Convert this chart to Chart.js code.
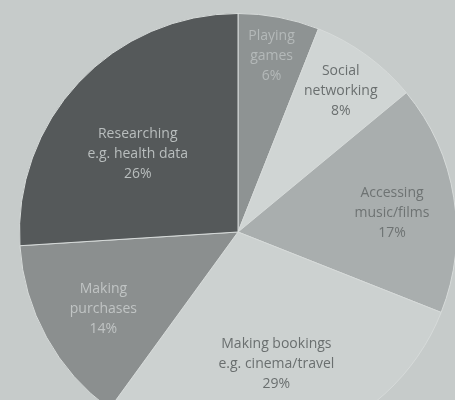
<!DOCTYPE html>
<html>
<head>
<meta charset="utf-8">
<script src="https://cdn.jsdelivr.net/npm/chart.js@4.4.0/dist/chart.umd.min.js"></script>
<style>
  html, body { margin: 0; padding: 0; background: #c6cbca; overflow: hidden; }
  #wrap { position: absolute; left: 0; top: 0; width: 470px; height: 470px; }
</style>
</head>
<body>
<div id="wrap"><canvas id="pieChart"></canvas></div>
<script>
// data, clockwise from 12 o'clock
const categories = [
    ['Playing', 'games'],
    ['Social', 'networking'],
    ['Accessing', 'music/films'],
    ['Making bookings', 'e.g. cinema/travel'],
    ['Making', 'purchases'],
    ['Researching', 'e.g. health data']
];
const shares = [6, 8, 17, 29, 14, 26];

const sliceColors = ['#8e9393', '#d0d5d4', '#a9aeae', '#ccd1d0', '#8b8f8f', '#55595a'];
const textColors = ['#b4b9b9', '#6a6f6f', '#6e7373', '#6a6f6f', '#c0c4c4', '#b9bebe'];
// label placement: fraction of radius, angle nudge in degrees
const labelDist = [0.82, 0.80, 0.71, 0.63, 0.71, 0.58];
const labelTurn = [0, 0, 2, 0, -1, -5.5];

// slice labels inside the pie
const sliceLabels = {
    id: 'sliceLabels',
    afterDatasetsDraw(chart) {
        const ctx = chart.ctx;
        const arcs = chart.getDatasetMeta(0).data;
        ctx.save();
        ctx.font = '14px "Open Sans", "Noto Sans", sans-serif';
        ctx.textAlign = 'center';
        ctx.textBaseline = 'middle';
        arcs.forEach((arc, i) => {
            const p = arc.getProps(['x', 'y', 'startAngle', 'endAngle', 'outerRadius'], true);
            const mid = (p.startAngle + p.endAngle) / 2 + labelTurn[i] * Math.PI / 180;
            const r = p.outerRadius * labelDist[i];
            const cx = p.x + Math.cos(mid) * r;
            const cy = p.y + Math.sin(mid) * r;
            const lines = categories[i].concat(shares[i] + '%');
            ctx.fillStyle = textColors[i];
            lines.forEach((t, k) => {
                ctx.fillText(t, cx, cy + (k - (lines.length - 1) / 2) * 20);
            });
        });
        ctx.restore();
    }
};

new Chart(document.getElementById('pieChart'), {
    type: 'pie',
    data: {
        labels: categories.map(c => c.join(' ')),
        datasets: [{
            data: shares,
            backgroundColor: sliceColors,
            borderColor: '#d6dad9',
            borderWidth: 1
        }]
    },
    options: {
        responsive: true,
        maintainAspectRatio: false,
        animation: false,
        layout: { padding: { left: 19, top: 13, right: 13, bottom: 19 } },
        plugins: {
            legend: { display: false },
            tooltip: { enabled: false }
        }
    },
    plugins: [sliceLabels]
});
</script>
</body>
</html>
